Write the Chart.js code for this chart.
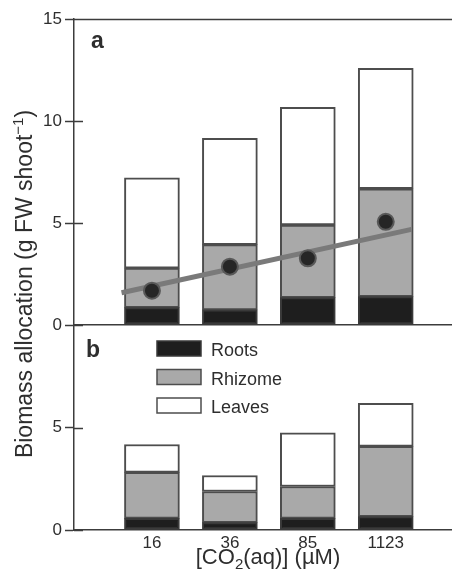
<!DOCTYPE html>
<html>
<head>
<meta charset="utf-8">
<script src="https://cdn.jsdelivr.net/npm/chart.js@4.4.1/dist/chart.umd.min.js"></script>
<style>
  body { margin: 0; background: #fff; }
  #wrap { position: relative; width: 452px; height: 575px; font-family: "Liberation Sans", Arial, Helvetica, sans-serif; color: #2e2e2e; }
  #boxA { position: absolute; left: 0; top: 0; width: 452px; height: 340px; }
  #boxB { position: absolute; left: 0; top: 300px; width: 452px; height: 275px; }
  .panel { position: absolute; font-weight: bold; font-size: 23px; line-height: 23px; }
  #ytitle { position: absolute; left: -182px; top: 271px; width: 400px; height: 26px; line-height: 26px;
            font-size: 23px; text-align: center; transform: rotate(-90deg); white-space: nowrap; }
  #xtitle { position: absolute; left: 118px; top: 546px; width: 300px; line-height: 22px; font-size: 22px;
            text-align: center; white-space: nowrap; }
</style>
</head>
<body>
<div id="wrap">
  <div id="boxA"><canvas id="chartA" width="452" height="340"></canvas></div>
  <div id="boxB"><canvas id="chartB" width="452" height="275"></canvas></div>
  <div class="panel" style="left:91px; top:29px;">a</div>
  <div class="panel" style="left:86px; top:338px;">b</div>
  <div id="ytitle">Biomass allocation (g FW shoot<span style="font-size:15px; vertical-align:9px;">−1</span>)</div>
  <div id="xtitle">[CO<span style="font-size:15px; vertical-align:-5px;">2</span>(aq)] (µM)</div>
</div>
<script>
// CO2 treatments (x categories)
const categories = ['16', '36', '85', '1123'];

// panel a, g FW per shoot
const rootsA = [0.85, 0.74, 1.34, 1.39];
const rhizomeA = [1.94, 3.20, 3.56, 5.29];
const leavesA = [4.43, 5.21, 5.77, 5.90];
const shootMeans = [1.68, 2.86, 3.27, 5.06];
const fitX = [0.61, 4.33];
const fitY = [1.58, 4.69];

// panel b
const rootsB = [0.57, 0.36, 0.57, 0.65];
const rhizomeB = [2.24, 1.52, 1.55, 3.43];
const leavesB = [1.36, 0.78, 2.62, 2.10];

const yTicksA = [0, 5, 10, 15];
const yTicksB = [0, 5];

const FONT = '"Liberation Sans", Arial, Helvetica, sans-serif';
const AXIS = '#3c3c3c';

const parts = [
  { label: 'Roots', bg: '#1e1e1e', border: '#3a3a3a' },
  { label: 'Rhizome', bg: '#a9a9a9', border: '#4d4d4d' },
  { label: 'Leaves', bg: '#ffffff', border: '#4d4d4d' }
];

function toPoints(values) {
  return values.map((v, i) => ({ x: i + 1, y: v }));
}

function barSets(series) {
  return series.map((vals, k) => ({
    type: 'bar',
    label: parts[k].label,
    data: toPoints(vals),
    backgroundColor: parts[k].bg,
    borderColor: parts[k].border,
    borderWidth: 2,
    borderSkipped: false,
    barThickness: 55,
    order: 2
  }));
}

// tick marks reaching into the plot + optional top frame line
const innerTicks = {
  id: 'innerTicks',
  afterDraw(chart, args, opts) {
    const { ctx, chartArea, scales } = chart;
    const y = scales.y;
    ctx.save();
    ctx.strokeStyle = AXIS;
    ctx.lineWidth = 1.5;
    ctx.beginPath();
    y.ticks.forEach(t => {
      const py = Math.round(y.getPixelForValue(t.value)) + 0.5;
      ctx.moveTo(chartArea.left, py);
      ctx.lineTo(chartArea.left + 9, py);
    });
    if (opts.topLine) {
      ctx.moveTo(chartArea.left, chartArea.top + 0.5);
      ctx.lineTo(chartArea.right, chartArea.top + 0.5);
    }
    ctx.stroke();
    ctx.restore();
  }
};

// legend boxes drawn inside panel b
const boxLegend = {
  id: 'boxLegend',
  afterDraw(chart, args, opts) {
    if (!opts.show) return;
    const { ctx, chartArea } = chart;
    const x0 = chartArea.left + 83;
    const y0 = chartArea.top + 16;
    ctx.save();
    ctx.font = '18px ' + FONT;
    ctx.textBaseline = 'alphabetic';
    parts.forEach((p, k) => {
      const top = y0 + k * 28.5;
      ctx.fillStyle = p.bg;
      ctx.fillRect(x0, top, 44, 15);
      ctx.strokeStyle = p.border;
      ctx.lineWidth = 1.5;
      ctx.strokeRect(x0, top, 44, 15);
      ctx.fillStyle = '#2e2e2e';
      ctx.fillText(p.label, x0 + 54, top + 15);
    });
    ctx.restore();
  }
};

function makeOptions(cfg) {
  return {
    responsive: false,
    animation: false,
    events: [],
    layout: { autoPadding: false, padding: { top: cfg.padTop, right: 0, left: 0, bottom: 0 } },
    plugins: {
      legend: { display: false },
      tooltip: { enabled: false },
      innerTicks: { topLine: cfg.topLine },
      boxLegend: { show: cfg.legend }
    },
    scales: {
      x: {
        type: 'linear',
        offset: false,
        min: 0,
        max: 4.85,
        stacked: true,
        grid: { display: false },
        border: { display: true, color: AXIS, width: 1.5 },
        afterFit: s => { s.height = cfg.xHeight; s.paddingRight = 0; s.paddingLeft = 0; },
        ticks: {
          display: cfg.xLabels,
          stepSize: 1,
          autoSkip: false,
          maxRotation: 0,
          padding: -5,
          color: '#2e2e2e',
          font: { family: FONT, size: 17 },
          callback: v => categories[v - 1] || ''
        }
      },
      y: {
        min: 0,
        max: cfg.yMax,
        stacked: true,
        afterFit: s => { s.width = 74; },
        afterBuildTicks: s => { s.ticks = cfg.yTicks.map(v => ({ value: v })); },
        grid: { display: true, drawOnChartArea: false, tickLength: 9, tickColor: AXIS, tickWidth: 1.5 },
        border: { display: true, color: AXIS, width: 1.5 },
        ticks: {
          padding: 3,
          color: '#2e2e2e',
          font: { family: FONT, size: 17 }
        }
      }
    }
  };
}

new Chart(document.getElementById('chartA'), {
  type: 'bar',
  data: {
    datasets: [
      {
        type: 'line',
        label: 'shoot',
        data: toPoints(shootMeans),
        showLine: false,
        stack: 'dots',
        pointRadius: 8,
        pointBackgroundColor: '#262626',
        pointBorderColor: '#585858',
        pointBorderWidth: 2,
        order: 0
      },
      {
        type: 'line',
        label: 'fit',
        data: fitX.map((x, i) => ({ x: x, y: fitY[i] })),
        stack: 'fit',
        borderColor: '#7a7a7a',
        borderWidth: 5,
        pointRadius: 0,
        order: 1
      },
      ...barSets([rootsA, rhizomeA, leavesA])
    ]
  },
  options: makeOptions({ padTop: 19, topLine: true, legend: false, xLabels: false, xHeight: 15, yMax: 15, yTicks: yTicksA }),
  plugins: [innerTicks, boxLegend]
});

new Chart(document.getElementById('chartB'), {
  type: 'bar',
  data: { datasets: barSets([rootsB, rhizomeB, leavesB]) },
  options: makeOptions({ padTop: 25, topLine: false, legend: true, xLabels: true, xHeight: 45, yMax: 10, yTicks: yTicksB }),
  plugins: [innerTicks, boxLegend]
});
</script>
</body>
</html>
